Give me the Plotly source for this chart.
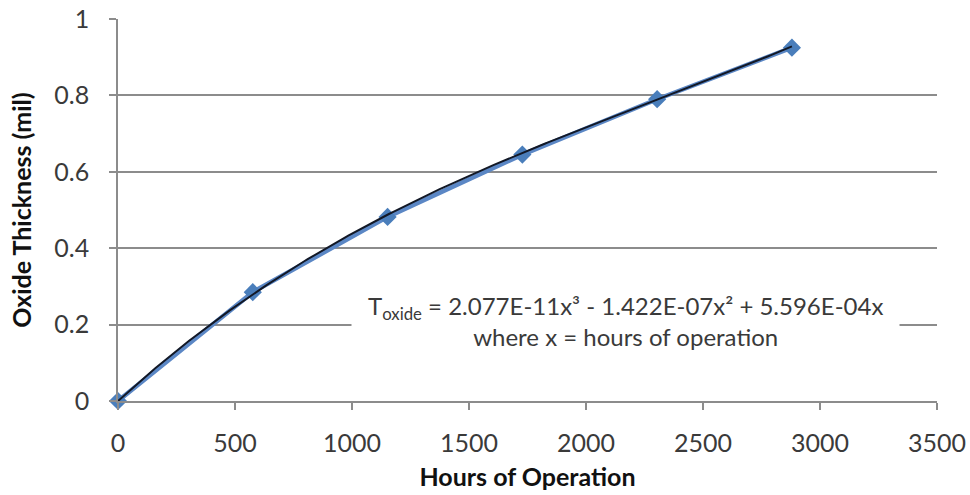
import numpy as np
import plotly.graph_objects as go

# Data
hours = [0, 576, 1152, 1728, 2304, 2880]
thickness = [0.0, 0.285, 0.482, 0.645, 0.790, 0.925]

# Polynomial trendline coefficients shown on the chart (x^3, x^2, x, const)
trend_coef = [2.077e-11, -1.422e-07, 5.596e-04, 0.0]

x_ticks = [0, 500, 1000, 1500, 2000, 2500, 3000, 3500]
y_ticks = [0, 0.2, 0.4, 0.6, 0.8, 1]
y_tick_labels = ["0", "0.2", "0.4", "0.6", "0.8", "1"]

FONT = "Lato"
TEXT = "#3A3A3A"
AXIS = "#8C8C8C"

trend_x = np.linspace(hours[0], hours[-1], 200)
trend_y = np.polyval(trend_coef, trend_x)

fig = go.Figure()
fig.add_trace(go.Scatter(
    x=hours, y=thickness, mode="lines+markers",
    line=dict(color="#5B87C5", width=4.5),
    marker=dict(symbol="diamond", size=14, color="#4A7EBB"),
    showlegend=False, cliponaxis=False,
))
fig.add_trace(go.Scatter(
    x=trend_x, y=trend_y, mode="lines",
    line=dict(color="#121826", width=2),
    showlegend=False, cliponaxis=False,
))

fig.add_annotation(
    x=2170, xref="x", y=0.21, yref="y",
    xanchor="center", yanchor="middle",
    text="T<sub>oxide</sub> = 2.077E-11x³ - 1.422E-07x² + 5.596E-04x<br>where x = hours of operation",
    showarrow=False, align="center",
    font=dict(family=FONT, size=24, color=TEXT),
    bgcolor="white", borderpad=16,
)

fig.update_layout(
    width=970, height=495,
    margin=dict(l=118, r=33, t=19, b=94, autoexpand=False),
    paper_bgcolor="white", plot_bgcolor="white",
    font=dict(family=FONT, color=TEXT),
    xaxis=dict(
        range=[0, 3500], tickvals=x_ticks, automargin=False,
        showgrid=False, zeroline=False,
        showline=True, linecolor=AXIS, linewidth=1.5,
        ticks="outside", ticklen=7, tickcolor=AXIS, tickwidth=1.5,
        ticklabelstandoff=12,
        tickfont=dict(family=FONT, size=25, color=TEXT),
        title=dict(text="<b>Hours of Operation</b>", font=dict(family=FONT, size=25, color="#111111"), standoff=13),
    ),
    yaxis=dict(
        range=[0, 1], tickvals=y_ticks, ticktext=y_tick_labels, automargin=False,
        showgrid=True, gridcolor=AXIS, gridwidth=1.5,
        zeroline=False,
        showline=True, linecolor=AXIS, linewidth=1.5,
        ticks="outside", ticklen=7, tickcolor=AXIS, tickwidth=1.5,
        ticklabelstandoff=15,
        tickfont=dict(family=FONT, size=25, color=TEXT),
        title=dict(text="<b>Oxide Thickness (mil)</b>", font=dict(family=FONT, size=25, color="#111111"), standoff=16),
    ),
)

fig.write_html("out.html")
